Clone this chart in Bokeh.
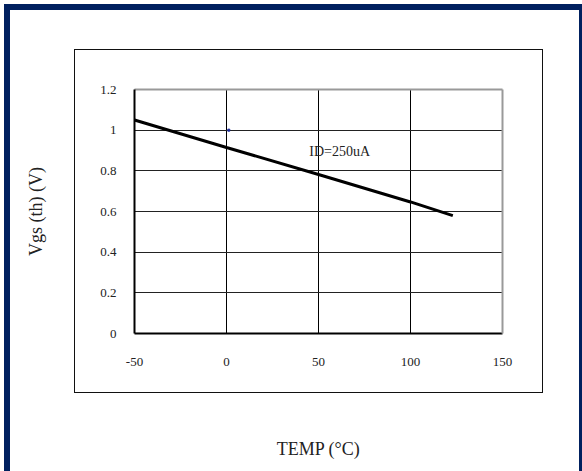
import math
from bokeh.plotting import figure
from bokeh.models import (Range1d, FixedTicker, LinearAxis)
from bokeh.core.properties import value
from bokeh.embed import file_html
from bokeh.resources import INLINE

# ---- data ----
temps = [-50, 0, 50, 100, 123]
vgs_th = [1.05, 0.915, 0.782, 0.647, 0.58]
marker_x = [1.25]
marker_y = [1.0]
x_ticks = [-50, 0, 50, 100, 150]
x_tick_labels = ["-50", "0", "50", "100", "150"]
y_ticks = [0, 0.2, 0.4, 0.6, 0.8, 1.0, 1.2]
y_tick_labels = ["0", "0.2", "0.4", "0.6", "0.8", "1", "1.2"]
note_text = ["ID=250uA"]
note_x = [45.0]
note_y = [0.895]
x_title = "TEMP (°C)"
y_title = "Vgs (th) (V)"

FONT = "Liberation Serif"
NAVY = "#00205f"
W, H = 582, 471
FL, FR, FT, FB = 134, 502, 89, 333  # frame edges in canvas px

p = figure(width=W, height=H, output_backend="svg", toolbar_location=None,
           x_range=Range1d(-50, 150), y_range=Range1d(0, 1.2),
           min_border_left=FL, min_border_right=W - FR,
           min_border_top=FT, min_border_bottom=H - FB,
           background_fill_color="white", border_fill_color=None)
p.outline_line_color = None

for ax in (p.xaxis[0], p.yaxis[0]):
    ax.axis_line_color = "black"
    ax.axis_line_width = 2
    ax.major_tick_out = 0
    ax.major_tick_in = 0
    ax.minor_tick_out = 0
    ax.minor_tick_in = 0
    ax.major_label_text_font = FONT
    ax.major_label_text_font_size = "13px"
    ax.major_label_text_color = "#222222"
    ax.axis_label_text_font = FONT
    ax.axis_label_text_font_size = "18px"
    ax.axis_label_text_font_style = "normal"
    ax.axis_label_text_color = "#222222"

p.xaxis[0].ticker = FixedTicker(ticks=x_ticks)
p.yaxis[0].ticker = FixedTicker(ticks=y_ticks)
p.xaxis[0].major_label_overrides = {t: l for t, l in zip(x_ticks, x_tick_labels)}
p.yaxis[0].major_label_overrides = {t: l for t, l in zip(y_ticks, y_tick_labels)}
p.xaxis[0].major_label_standoff = 24
p.yaxis[0].major_label_standoff = 18
p.xaxis[0].axis_label = x_title
p.yaxis[0].axis_label = y_title
p.xaxis[0].axis_label_standoff = 70
p.yaxis[0].axis_label_standoff = 51

for loc in ("above", "right"):
    ax = LinearAxis(axis_line_color="#999999", axis_line_width=2,
                    major_tick_out=0, major_tick_in=0, minor_tick_out=0, minor_tick_in=0,
                    major_label_text_font_size="0px",
                    ticker=FixedTicker(ticks=[]))
    p.add_layout(ax, loc)

p.xgrid.ticker = FixedTicker(ticks=x_ticks)
p.ygrid.ticker = FixedTicker(ticks=y_ticks)
p.xgrid.grid_line_color = "black"
p.ygrid.grid_line_color = "#222222"
p.xgrid.grid_line_width = 1
p.ygrid.grid_line_width = 1

p.line(temps, vgs_th, line_color="black", line_width=3)
p.scatter(marker_x, marker_y, marker="square", size=2, color="#1a2a9a")
p.text(x=note_x, y=note_y, text=note_text, text_font=value(FONT),
       text_font_size="14px", text_baseline="middle", text_align="left",
       text_color="#222222")

# page decoration: navy page border and the chart's outer box (CSS backgrounds)
rects = [  # (x, y, w, h, color)
    (4, 4, 6, 467, NAVY), (4, 4, 578, 6, NAVY), (579, 4, 3, 467, NAVY),
    (74, 49, 469, 1, "#111111"), (74, 392, 469, 1, "#111111"),
    (74, 49, 1, 344, "#111111"), (542, 49, 1, 344, "#111111"),
]
p.styles = {
    "background-color": "white",
    "background-image": ", ".join(f"linear-gradient({c}, {c})" for *_, c in rects),
    "background-position": ", ".join(f"{x}px {y}px" for x, y, *_ in rects),
    "background-size": ", ".join(f"{w}px {h}px" for _, _, w, h, _ in rects),
    "background-repeat": "no-repeat",
}

open("out.html", "w").write(file_html(p, INLINE))
